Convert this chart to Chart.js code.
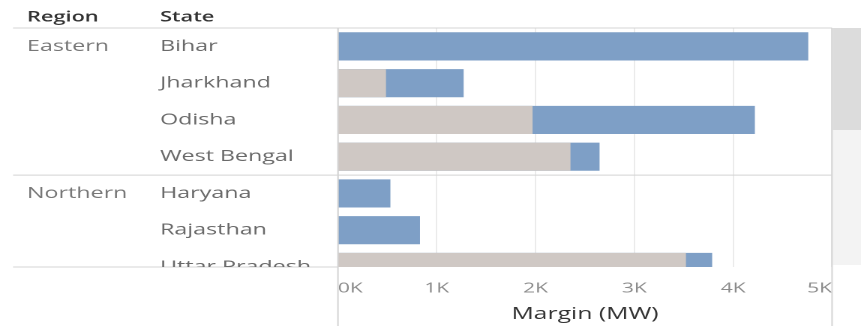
<!DOCTYPE html>
<html>
<head>
<meta charset="utf-8">
<script src="https://cdn.jsdelivr.net/npm/chart.js@4.4.1/dist/chart.umd.min.js"></script>
<style>
  html, body { margin: 0; padding: 0; background: #fff; overflow: hidden; }
  /* the whole view is drawn narrow and stretched sideways */
  #wrap { width: 574px; height: 326px; transform: scaleX(1.5); transform-origin: 0 0; }
</style>
</head>
<body>
<div id="wrap"><canvas id="chart" width="574" height="326"></canvas></div>
<script>
const states = ['Bihar', 'Jharkhand', 'Odisha', 'West Bengal', 'Haryana', 'Rajasthan', 'Uttar Pradesh'];
const stateRegion = ['Eastern', 'Eastern', 'Eastern', 'Eastern', 'Northern', 'Northern', 'Northern'];
const totalMargin = [4840, 1290, 4290, 2690, 535, 840, 3850];
const baseMargin = [0, 490, 2000, 2390, 0, 0, 3580];
const tickLabels = ['0K', '1K', '2K', '3K', '4K', '5K'];

Chart.defaults.font.family = "'Open Sans', sans-serif";

const LINE = '#d4d4d4';

const stateTable = {
  id: 'stateTable',
  beforeDraw(chart) {
    const { ctx, chartArea: a } = chart;
    ctx.save();
    // scrollbar strip on the right
    ctx.fillStyle = '#dcdcdc';
    ctx.fillRect(a.right + 0.5, a.top, chart.width - a.right, 102);
    ctx.fillStyle = '#f3f3f3';
    ctx.fillRect(a.right + 0.5, a.top + 102, chart.width - a.right, a.bottom - a.top - 104);
    ctx.restore();
  },
  afterDraw(chart) {
    const { ctx, chartArea: a, scales: { y } } = chart;
    ctx.save();

    // headers
    ctx.fillStyle = '#333';
    ctx.font = "600 14.5px 'Open Sans', sans-serif";
    ctx.textBaseline = 'middle';
    ctx.fillText('Region', 18, 17.5);
    ctx.fillText('State', 106.7, 17.5);

    // frame lines
    ctx.strokeStyle = LINE;
    ctx.lineWidth = 1;
    ctx.beginPath();
    ctx.moveTo(8.7, a.top); ctx.lineTo(a.right, a.top);
    const split = y.getPixelForValue(3.5);
    ctx.moveTo(8.7, split); ctx.lineTo(a.right, split);
    ctx.moveTo(8.7, a.bottom); ctx.lineTo(a.left, a.bottom);
    ctx.moveTo(a.left, a.top); ctx.lineTo(a.left, chart.height);
    ctx.moveTo(a.right, a.top); ctx.lineTo(a.right, chart.height);
    ctx.stroke();

    // row labels, cut off at the bottom of the panel
    ctx.beginPath();
    ctx.rect(0, a.top, a.left, a.bottom - a.top);
    ctx.clip();
    ctx.font = "15.5px 'Open Sans', sans-serif";
    states.forEach((s, i) => {
      const py = y.getPixelForValue(i);
      if (i === 0 || stateRegion[i] !== stateRegion[i - 1]) {
        ctx.fillStyle = '#777';
        ctx.fillText(stateRegion[i], 18, py);
      }
      ctx.fillStyle = '#6a6a6a';
      ctx.fillText(s, 106.7, py);
    });
    ctx.restore();
  }
};

new Chart(document.getElementById('chart'), {
  type: 'bar',
  data: {
    datasets: [{
      label: 'Base',
      data: states.map((s, i) => ({ x: baseMargin[i], y: i })),
      backgroundColor: '#cfc8c4'
    }, {
      label: 'Margin',
      data: states.map((s, i) => ({ x: totalMargin[i], y: i })),
      backgroundColor: '#7e9fc6'
    }]
  },
  options: {
    indexAxis: 'y',
    responsive: false,
    devicePixelRatio: 2,
    animation: false,
    layout: { padding: { left: 225.3, right: 19.3, top: 28, bottom: 0 } },
    datasets: { bar: { grouped: false, barThickness: 27.5, borderWidth: 0 } },
    plugins: { legend: { display: false }, tooltip: { enabled: false } },
    scales: {
      y: { type: 'linear', reverse: true, min: -0.5, max: 6, offset: false, display: false },
      x: {
        type: 'linear',
        min: 0,
        max: 5090,
        grid: { color: '#ebebeb', drawTicks: false },
        border: { display: false },
        ticks: {
          stepSize: 1000,
          includeBounds: false,
          align: 'inner',
          padding: 13,
          color: '#8c8c8c',
          font: { size: 14 },
          callback: (v, i) => tickLabels[i]
        },
        title: {
          display: true,
          text: 'Margin (MW)',
          color: '#333',
          font: { size: 16.5 },
          padding: { top: 0, bottom: 2 }
        },
        afterFit: s => { s.height = 59; }
      }
    }
  },
  plugins: [stateTable]
});
</script>
</body>
</html>
